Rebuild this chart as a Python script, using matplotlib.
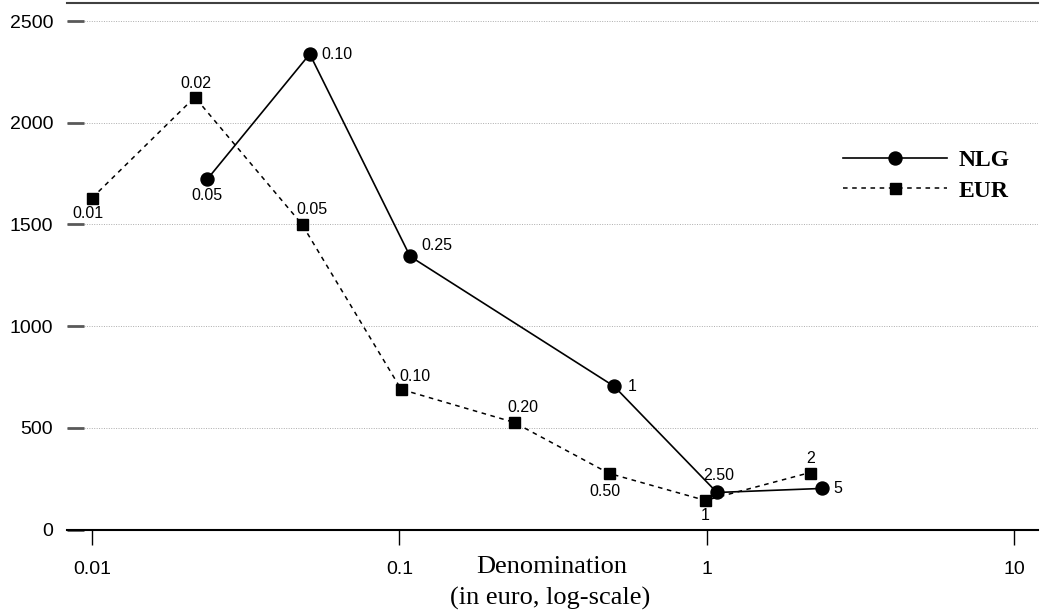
"""
plot.py

Coin usage by denomination, guilder (NLG) versus euro (EUR) coins,
denominations expressed in euro on a log axis.
"""
import matplotlib
matplotlib.use('Agg')
import matplotlib.pyplot as plt


# === Data =====================================================================

# EUR coins: position on the euro axis, value, label next to the marker
eur_x = [0.0100, 0.0216, 0.0482, 0.1014, 0.236, 0.481, 0.99, 2.17]
eur_y = [1630, 2126, 1501, 689, 527, 276, 143, 280]
eur_labels = ['0.01', '0.02', '0.05', '0.10', '0.20', '0.50', '1', '2']

# NLG coins
nlg_x = [0.0237, 0.0511, 0.1084, 0.500, 1.08, 2.38]
nlg_y = [1722, 2338, 1343, 704, 182, 202]
nlg_labels = ['0.05', '0.10', '0.25', '1', '2.50', '5']

x_ticks = [0.01, 0.1, 1, 10]
x_tick_labels = ['0.01', '0.1', '1', '10']
y_ticks = [0, 500, 1000, 1500, 2000, 2500]


# === Style ====================================================================

SANS = ['Liberation Sans', 'DejaVu Sans']
SERIF = ['Liberation Serif', 'DejaVu Serif']

# label offsets in pixels (dx, dy; dy positive = up) and alignment per point
eur_offsets = [(-4, -15, 'center'), (1, 14, 'center'), (10, 15, 'center'),
               (14, 13, 'center'), (9, 15, 'center'), (-4, -18, 'center'),
               (0, -15, 'center'), (1, 14, 'center')]
nlg_offsets = [(0, -16, 'center'), (12, 0, 'left'), (11, 11, 'left'),
               (14, 0, 'left'), (2, 17, 'center'), (11, 0, 'left')]


def px(v):
    """Pixels to points at dpi 100."""
    return v * 0.72


def label_points(ax, xs, ys, labels, offsets):
    """Write the denomination next to each marker."""
    for x, y, lbl, (dx, dy, ha) in zip(xs, ys, labels, offsets):
        ax.annotate(lbl, (x, y), xytext=(px(dx), px(dy)),
                    textcoords='offset points', ha=ha, va='center',
                    fontsize=11.5, family=SANS)


# === Plot =====================================================================

fig = plt.figure(figsize=(10.44, 6.16), dpi=100)
ax = fig.add_axes([67 / 1044, 1 - 529.5 / 616, (1038 - 67) / 1044, (529.5 - 3) / 616])

ax.plot(nlg_x, nlg_y, color='black', linestyle='-', linewidth=1.2,
        marker='o', markersize=px(13), label='NLG')
ax.plot(eur_x, eur_y, color='black', linestyle=(0, (3, 3)), linewidth=1.1,
        marker='s', markersize=px(11), label='EUR')

label_points(ax, eur_x, eur_y, eur_labels, eur_offsets)
label_points(ax, nlg_x, nlg_y, nlg_labels, nlg_offsets)

ax.set_xscale('log')
ax.set_xlim(0.00829, 11.97)
ax.set_ylim(0, 2589)
ax.minorticks_off()
ax.set_xticks(x_ticks)
ax.set_xticklabels(x_tick_labels)
ax.set_yticks(y_ticks)

for t in ax.get_xticklabels() + ax.get_yticklabels():
    t.set_family(SANS)
    t.set_fontsize(14)

ax.tick_params(axis='x', direction='out', length=px(15), width=1, pad=12)
ax.tick_params(axis='y', direction='in', length=px(17), width=2, color='0.35', pad=10)

# dotted horizontal grid, no side spines
ax.yaxis.grid(True, linestyle=(0, (1, 1.5)), linewidth=0.7, color='0.68')
ax.set_axisbelow(True)
ax.spines['left'].set_visible(False)
ax.spines['right'].set_visible(False)
ax.spines['bottom'].set_linewidth(1.5)
ax.spines['top'].set_linewidth(1.5)
ax.spines['top'].set_color('0.25')

# two-line axis title sits level with the tick labels
fig.text(552 / 1044, 1 - 567 / 616, 'Denomination', ha='center', va='center',
         fontsize=19, family=SERIF)
fig.text(550 / 1044, 1 - 598 / 616, '(in euro, log-scale)', ha='center', va='center',
         fontsize=19, family=SERIF)

leg = ax.legend(loc='center left', bbox_to_anchor=(843 / 1044, 1 - 175.5 / 616),
                bbox_transform=fig.transFigure, frameon=False, numpoints=1,
                handlelength=4.4, handletextpad=0.5, borderpad=0, borderaxespad=0,
                labelspacing=0.4, prop={'family': SERIF, 'size': 17, 'weight': 'bold'})

fig.savefig('out.png', dpi=100)
plt.close(fig)
